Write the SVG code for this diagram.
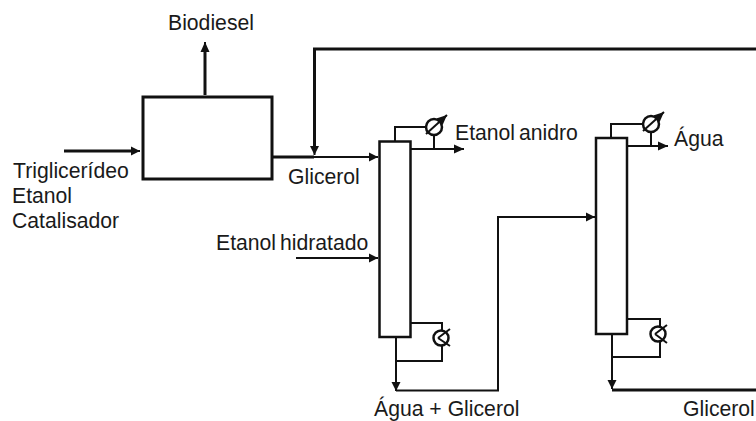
<svg xmlns="http://www.w3.org/2000/svg" width="756" height="421" viewBox="0 0 756 421">
<defs>
<marker id="ah" markerUnits="userSpaceOnUse" markerWidth="12" markerHeight="12" refX="10" refY="5" orient="auto"><path d="M0,0.500L10,5L0,9.500Z" fill="#111"/></marker>
<marker id="as" markerUnits="userSpaceOnUse" markerWidth="10" markerHeight="10" refX="9" refY="5" orient="auto"><path d="M0,0.500L9,5L0,9.500Z" fill="#111"/></marker>
</defs>
<style>
text{font-family:"Liberation Sans",Arial,sans-serif;font-size:21.200px;fill:#1a1a1a}
.ws{word-spacing:-2px}
.box{fill:#fff;stroke:#111;stroke-width:3}
.col{fill:#fff;stroke:#111;stroke-width:2.500}
.l{fill:none;stroke:#111;stroke-width:2}
.t{fill:none;stroke:#111;stroke-width:3}
.c{fill:#fff;stroke:#111;stroke-width:2.500}
</style>
<rect width="756" height="421" fill="#fff"/>
<g id="connectors">
<path class="t" d="M205,95V48"/><path class="l" marker-end="url(#ah)" d="M205,55V42"/>
<path class="t" d="M64,151H132"/><path class="l" marker-end="url(#as)" d="M125,151H140"/>
<path class="t" d="M756,49H314.500V148"/><path class="l" marker-end="url(#as)" d="M314.500,140V155"/>
<path class="t" d="M272,157H314"/><path class="l" marker-end="url(#as)" d="M314,157H378"/>
<path class="l" marker-end="url(#as)" d="M296,258H378"/>
<path class="l" d="M395,141V127H426"/>
<path class="l" d="M411,149H450"/><path class="l" marker-end="url(#ah)" d="M445,149H464"/>
<path class="l" d="M434,135V149"/>
<path class="l" d="M411,323H442V331"/>
<path class="l" d="M442,345V361H396"/>
<path class="l" d="M396,337V382"/><path class="l" marker-end="url(#as)" d="M396,378V391"/>
<path class="l" d="M396,390.500H498V217H585"/><path class="l" marker-end="url(#as)" d="M580,217H595"/>
<path class="l" d="M611,137V124H643"/>
<path class="l" d="M627,146H655"/><path class="l" marker-end="url(#ah)" d="M650,146H668"/>
<path class="l" d="M651,132V146"/>
<path class="l" d="M627,319H660V326"/>
<path class="l" d="M660,342V357H612"/>
<path class="l" d="M612,334V380"/><path class="l" marker-end="url(#as)" d="M612,376V389"/>
<path class="t" d="M612,390H756"/>
</g>
<g id="reactor"><rect class="box" x="143" y="97" width="129" height="82"/></g>
<g id="column-1"><rect class="col" x="379.500" y="141.500" width="31" height="195.500"/></g>
<g id="column-2"><rect class="col" x="596" y="138" width="31" height="196"/></g>
<g id="condenser-1"><circle class="c" cx="434" cy="127" r="8"/><path class="l" marker-end="url(#ah)" d="M426,134L447,115"/></g>
<g id="condenser-2"><circle class="c" cx="651" cy="124" r="8"/><path class="l" marker-end="url(#ah)" d="M643,131L664,112"/></g>
<g id="reboiler-1"><circle class="c" cx="441" cy="338" r="7.500"/><path class="l" d="M438,338L450,329M438,338L450,346"/></g>
<g id="reboiler-2"><circle class="c" cx="658" cy="334" r="7.500"/><path class="l" d="M655,334L667,325M655,334L667,343"/></g>
<g id="labels">
<text x="168" y="30">Biodiesel</text>
<text x="13" y="178">Triglicerídeo</text>
<text x="12" y="203">Etanol</text>
<text x="12" y="228">Catalisador</text>
<text x="288" y="184">Glicerol</text>
<text class="ws" x="216" y="250">Etanol hidratado</text>
<text class="ws" x="455" y="140">Etanol anidro</text>
<text x="674" y="146">Água</text>
<text x="374" y="416">Água + Glicerol</text>
<text x="683" y="416">Glicerol</text>
</g>
</svg>
